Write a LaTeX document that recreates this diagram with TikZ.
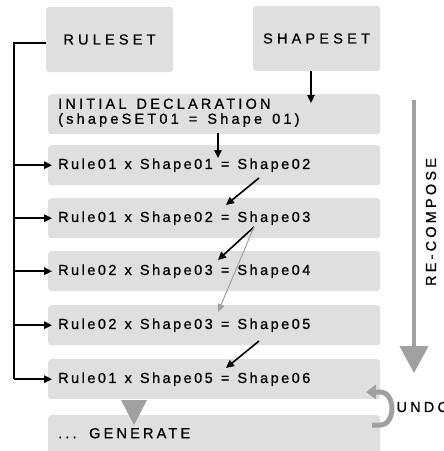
\documentclass[tikz,border=0pt]{standalone}
\usepackage{fontspec}
\setmainfont{Liberation Sans}[LetterSpace=22, WordSpace=1.4, FakeBold=0.8]
\newfontfamily\rowfont{Liberation Sans}[LetterSpace=17, WordSpace=1.25, FakeBold=0.8]
\newfontfamily\headfont{Liberation Sans}[LetterSpace=29, FakeBold=0.8]
\usetikzlibrary{arrows.meta,calc}

\definecolor{boxgray}{HTML}{DFDFDF}
\definecolor{flowgray}{HTML}{A0A0A0}

\tikzset{
  label text/.style={font=\fontsize{14.5}{18}\selectfont, text=black},
  wide text/.style={font=\headfont\fontsize{14.5}{18}\selectfont, text=black},
  tight text/.style={font=\rowfont\fontsize{14.5}{18}\selectfont, text=black},
  setbox/.style={wide text, fill=boxgray, rounded corners=3pt,
    minimum width=127pt, minimum height=65pt, inner sep=0pt},
  rowbox/.style={fill=boxgray, rounded corners=3pt,
    minimum width=332pt, minimum height=40pt, inner sep=0pt,
    anchor=north west},
  rowtext/.style={label text, anchor=west, inner sep=0pt, align=left,
    xshift=10pt},
  link/.style={draw=black, line width=1.6pt,
    -{Triangle[length=8pt,width=7.5pt]}},
  greylink/.style={draw=flowgray, line width=1pt,
    -{Triangle[length=8pt,width=7pt]}},
  bus/.style={draw=black, line width=1.6pt},
}

\begin{document}
\begin{tikzpicture}[x=1pt,y=-1pt]
\useasboundingbox (0,0) rectangle (444,451);

% source sets
\node[setbox] (ruleset) at (109.5,39.5) {RULESET};
\node[setbox] (shapeset) at (316.5,38.5) {SHAPESET};

% declaration and rule applications
\node[rowbox] (init) at (48,94) {};
\node[rowtext] (initT) at ([yshift=1.5pt]init.west) {INITIAL DECLARATION\\[-3pt](shapeSET01 = Shape 01)};
\node[rowbox] (r1) at (48,145) {};
\node[rowtext, tight text] (r1T) at (r1.west) {Rule01 x Shape01 = Shape02};
\node[rowbox] (r2) at (48,198) {};
\node[rowtext, tight text] (r2T) at (r2.west) {Rule01 x Shape02 = Shape03};
\node[rowbox] (r3) at (48,251) {};
\node[rowtext, tight text] (r3T) at (r3.west) {Rule02 x Shape03 = Shape04};
\node[rowbox] (r4) at (48,305) {};
\node[rowtext, tight text] (r4T) at (r4.west) {Rule02 x Shape03 = Shape05};
\node[rowbox] (r5) at (48,359) {};
\node[rowtext, tight text] (r5T) at (r5.west) {Rule01 x Shape05 = Shape06};
\node[rowbox, minimum height=46pt] (gen) at (48,415) {};
\node[rowtext] (genT) at ([yshift=5pt]gen.west) {... GENERATE};

% rule bus on the left
\coordinate (bustop) at (14,43);
\draw[bus] (ruleset.west |- bustop) -- (bustop) -- (bustop |- r5.west);
\foreach \r in {r1,r2,r3,r4,r5}
  \draw[link, shorten >=-4pt] (bustop |- \r.west) -- (\r.west);

% shape flow
\coordinate (sA) at (311,71);
\coordinate (sB) at (311,103);
\draw[link] (sA) -- (sB);
\coordinate (iA) at (218,133);
\coordinate (iB) at (218,158);
\draw[link] (iA) -- (iB);
\coordinate (aA) at (259,178);
\coordinate (aB) at (226,205);
\draw[link] (aA) -- (aB);
\coordinate (bA) at (254,227);
\coordinate (bB) at (218,260);
\draw[link] (bA) -- (bB);
\coordinate (cB) at (218,312);
\draw[greylink] (bA) -- (cB);
\coordinate (dA) at (259,341);
\coordinate (dB) at (226,368);
\draw[link] (dA) -- (dB);

% re-compose direction
\coordinate (rcA) at (414,100);
\coordinate (rcB) at (414,373);
\draw[draw=flowgray, line width=4.5pt, -{Triangle[length=27pt,width=28pt]}] (rcA) -- (rcB);
\node[label text, rotate=90] (recompose) at (431,222) {RE-COMPOSE};

% generate step
\fill[flowgray] (121,400) -- (147,400) -- (134,425) -- cycle;

% undo loop
\coordinate (uA) at (372,425);
\draw[draw=flowgray, line width=5pt, -{Triangle[length=10pt,width=14pt]}]
  (uA) -- (381,425) arc[start angle=-90, end angle=90, x radius=11pt, y radius=16.5pt] -- (366,392);
\node[label text, anchor=west] (undo) at (393,407) {UNDO};
\end{tikzpicture}
\end{document}
